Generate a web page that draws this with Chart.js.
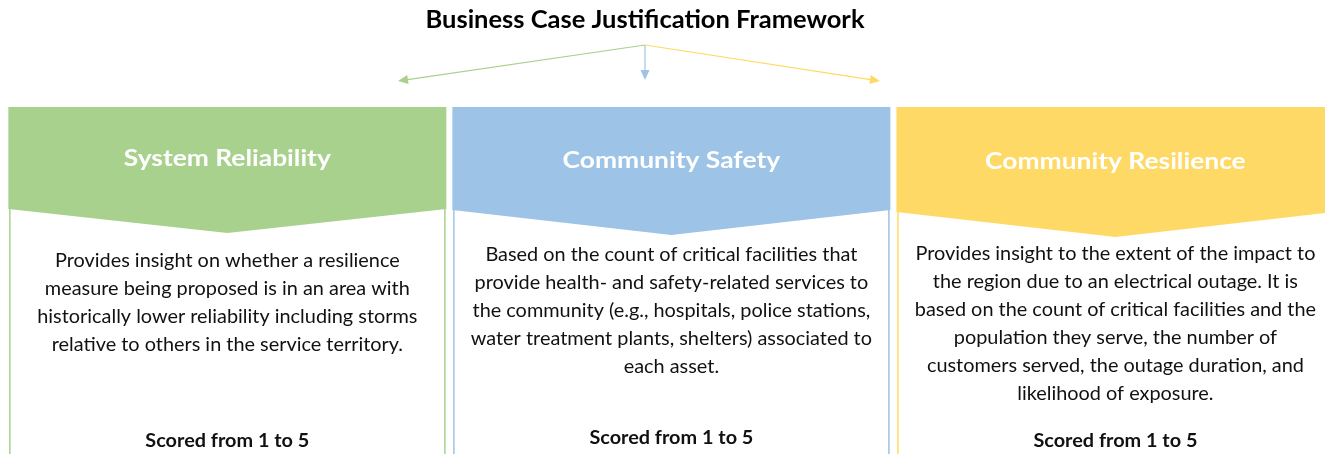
<!DOCTYPE html>
<html>
<head>
<meta charset="utf-8">
<title>Business Case Justification Framework</title>
<script src="https://cdn.jsdelivr.net/npm/chart.js@4.4.1/dist/chart.umd.min.js"></script>
<style>
  html, body { margin: 0; padding: 0; background: #fff; }
  canvas { display: block; }
</style>
</head>
<body>
<canvas id="frameworkChart" width="1325" height="454"></canvas>
<script>
// Content of the diagram
const chartTitle = 'Business Case Justification Framework';
const panelTitles = ['System Reliability', 'Community Safety', 'Community Resilience'];
const panelTexts = [
    ['Provides insight on whether a resilience',
     'measure being proposed is in an area with',
     'historically lower reliability including storms',
     'relative to others in the service territory.'],
    ['Based on the count of critical facilities that',
     'provide health- and safety-related services to',
     'the community (e.g., hospitals, police stations,',
     'water treatment plants, shelters) associated to',
     'each asset.'],
    ['Provides insight to the extent of the impact to',
     'the region due to an electrical outage. It is',
     'based on the count of critical facilities and the',
     'population they serve, the number of',
     'customers served, the outage duration, and',
     'likelihood of exposure.']
];
const scoreLabels = ['Scored from 1 to 5', 'Scored from 1 to 5', 'Scored from 1 to 5'];

// Styles
const panelColors = ['#a9d18e', '#9dc3e6', '#ffd966'];
const textColor = '#111111';
const font = 'Lato, "Open Sans", sans-serif';

// Layout (pixels, y axis runs 0..454 top-down)
const layout = {
    halfWidth: 219,
    headerTop: 107,
    headerBottom: [209, 210, 212],
    tipY: [233, 235, 237],
    arrowFrom: { x: 645, y: 45 },
    arrowTo: [{ x: 398, y: 81 }, { x: 645, y: 80 }, { x: 880, y: 81 }],
    titleY: 28,
    headY: [166, 168, 169],
    bodyY: [267, 261, 260],
    lineGap: 28,
    scoreY: [447, 444, 447]
};

// Fit a substitute font to the widths measured in the reference
const fitScale = (ctx, fnt, ref, width) => {
    ctx.font = fnt;
    return width / ctx.measureText(ref).width;
};

const drawText = (ctx, txt, x, y, fnt, k, color) => {
    ctx.save();
    ctx.font = fnt;
    ctx.fillStyle = color;
    ctx.textAlign = 'center';
    ctx.textBaseline = 'alphabetic';
    ctx.translate(x, y);
    ctx.scale(k, 1);
    ctx.fillText(txt, 0, 0);
    ctx.restore();
};

const drawArrow = (ctx, from, to, color) => {
    const ang = Math.atan2(to.y - from.y, to.x - from.x);
    const len = 10, wid = 4.5;
    ctx.save();
    ctx.strokeStyle = color;
    ctx.fillStyle = color;
    ctx.lineWidth = 1.2;
    ctx.beginPath();
    ctx.moveTo(from.x, from.y);
    ctx.lineTo(to.x - Math.cos(ang) * len * 0.8, to.y - Math.sin(ang) * len * 0.8);
    ctx.stroke();
    ctx.beginPath();
    ctx.moveTo(to.x, to.y);
    ctx.lineTo(to.x - Math.cos(ang) * len - Math.sin(ang) * wid, to.y - Math.sin(ang) * len + Math.cos(ang) * wid);
    ctx.lineTo(to.x - Math.cos(ang) * len + Math.sin(ang) * wid, to.y - Math.sin(ang) * len - Math.cos(ang) * wid);
    ctx.closePath();
    ctx.fill();
    ctx.restore();
};

const frameworkPlugin = {
    id: 'framework',
    afterDraw(chart) {
        const ctx = chart.ctx;
        const xs = chart.scales.x;
        const ys = chart.scales.y;
        const bottom = ys.getPixelForValue(454);

        const titleFont = 'bold 24px ' + font;
        const headFont = 'bold 22px ' + font;
        const bodyFont = '20px ' + font;
        const scoreFont = 'bold 18.5px ' + font;
        const kTitle = fitScale(ctx, titleFont, chartTitle, 439);
        const kHead = fitScale(ctx, headFont, panelTitles[0], 207);
        const kBody = fitScale(ctx, bodyFont, panelTexts[1][0], 372);
        const kScore = fitScale(ctx, scoreFont, scoreLabels[0], 164);

        drawText(ctx, chartTitle, layout.arrowFrom.x, ys.getPixelForValue(layout.titleY), titleFont, kTitle, '#000');

        panelTitles.forEach((title, i) => {
            const cx = xs.getPixelForValue(i);
            const left = cx - layout.halfWidth;
            const right = cx + layout.halfWidth;
            const top = ys.getPixelForValue(layout.headerTop);
            const hb = ys.getPixelForValue(layout.headerBottom[i]);
            const tip = ys.getPixelForValue(layout.tipY[i]);

            drawArrow(ctx, layout.arrowFrom, layout.arrowTo[i], panelColors[i]);

            // side borders of the panel body
            ctx.save();
            ctx.strokeStyle = panelColors[i];
            ctx.lineWidth = 1.5;
            ctx.beginPath();
            ctx.moveTo(left + 1.5, hb);
            ctx.lineTo(left + 1.5, bottom);
            ctx.moveTo(right - 1.5, hb);
            ctx.lineTo(right - 1.5, bottom);
            ctx.stroke();

            // chevron header
            ctx.fillStyle = panelColors[i];
            ctx.beginPath();
            ctx.moveTo(left, top);
            ctx.lineTo(right, top);
            ctx.lineTo(right, hb);
            ctx.lineTo(cx, tip);
            ctx.lineTo(left, hb);
            ctx.closePath();
            ctx.fill();
            ctx.restore();

            drawText(ctx, title, cx, ys.getPixelForValue(layout.headY[i]), headFont, kHead, '#ffffff');

            panelTexts[i].forEach((line, j) => {
                const y = ys.getPixelForValue(layout.bodyY[i] + j * layout.lineGap);
                drawText(ctx, line, cx, y, bodyFont, kBody, textColor);
            });

            drawText(ctx, scoreLabels[i], cx, ys.getPixelForValue(layout.scoreY[i]), scoreFont, kScore, textColor);
        });
    }
};

new Chart(document.getElementById('frameworkChart'), {
    type: 'scatter',
    data: {
        labels: panelTitles,
        datasets: [{ data: [], pointRadius: 0 }]
    },
    options: {
        responsive: false,
        animation: false,
        devicePixelRatio: 1,
        layout: { padding: 0 },
        plugins: { legend: { display: false }, tooltip: { enabled: false }, title: { display: false } },
        scales: {
            x: { type: 'linear', min: -0.512, max: 2.472, display: false },
            y: { type: 'linear', min: 0, max: 454, reverse: true, display: false }
        }
    },
    plugins: [frameworkPlugin]
});
</script>
</body>
</html>
